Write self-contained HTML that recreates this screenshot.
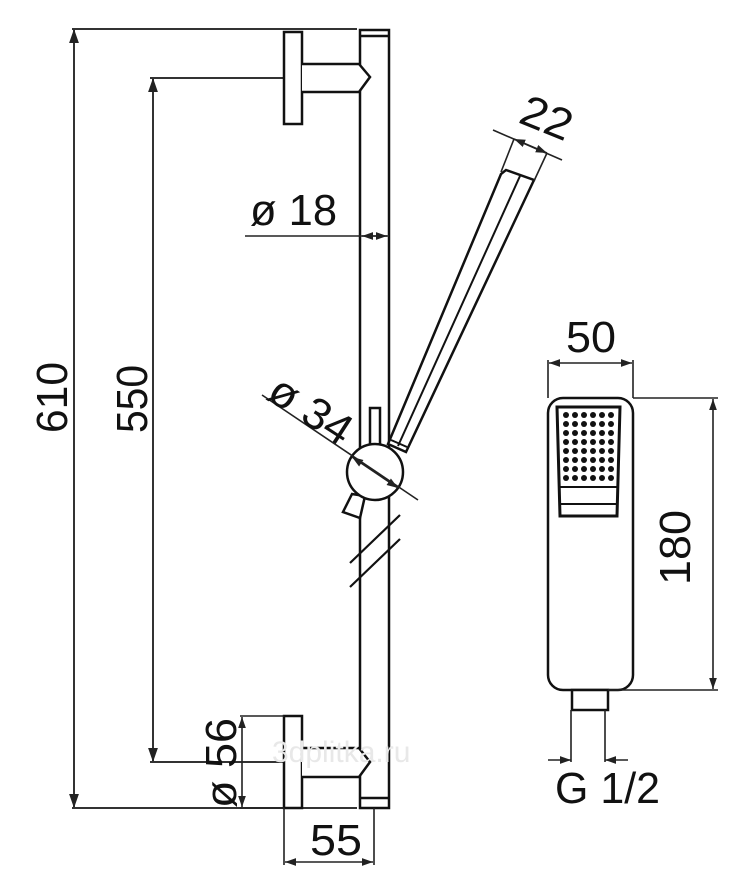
<!DOCTYPE html>
<html><head><style>html,body{margin:0;padding:0;background:#fff}svg{display:block}</style></head>
<body>
<svg width="733" height="896" viewBox="0 0 733 896" xmlns="http://www.w3.org/2000/svg" font-family="Liberation Sans, sans-serif">
<defs>
<marker id="a" viewBox="0 0 10 10" refX="10" refY="5" markerWidth="7" markerHeight="7" orient="auto-start-reverse"><path d="M0,1.5 L10,5 L0,8.5z" fill="#222"/></marker>
</defs>
<g stroke="#333" stroke-width="2" fill="none">
<!-- 610 dim -->
<line x1="72" y1="29" x2="357" y2="29"/>
<line x1="74" y1="29" x2="74" y2="808" marker-start="url(#a)" marker-end="url(#a)"/>
<line x1="72" y1="808" x2="357" y2="808"/>
<!-- 550 dim -->
<line x1="150" y1="78" x2="284" y2="78"/>
<line x1="153" y1="78" x2="153" y2="762" marker-start="url(#a)" marker-end="url(#a)"/>
<line x1="150" y1="762" x2="284" y2="762"/>
</g>
<g stroke="#111" stroke-width="2.5" fill="#fff">
<!-- rail -->
<rect x="360" y="30" width="29" height="778"/>
<line x1="360" y1="36" x2="389" y2="36"/>
<line x1="360" y1="798" x2="389" y2="798"/>
<!-- top mount -->
<rect x="284" y="32" width="18" height="92"/>
<path d="M302,64 H359 L370,77 L359,92 H302"/>
<!-- bottom mount -->
<rect x="284" y="716" width="18" height="92"/>
<path d="M302,748 H359 L370,762 L359,777 H302"/>
<!-- handle -->
<polygon points="388,444 501,174 506,170 534,180 406,452"/>
<line x1="398" y1="446" x2="520" y2="176" stroke-width="2"/>
<line x1="391" y1="440" x2="407" y2="447" stroke-width="2"/>
<!-- pin & lever -->
<rect x="370" y="408" width="10" height="38"/>
<polygon points="352,494 343,512 360,518 365,496"/>
<circle cx="375" cy="472" r="28"/>
<!-- slash lines -->
<line x1="350" y1="563" x2="400" y2="515" stroke-width="2.2"/>
<line x1="350" y1="587" x2="400" y2="539" stroke-width="2.2"/>
</g>
<g stroke="#222" stroke-width="1.6" fill="none">
<!-- ø18 -->
<line x1="245" y1="236" x2="389" y2="236"/>
<line x1="362" y1="236" x2="387" y2="236" marker-start="url(#a)" marker-end="url(#a)"/>
<!-- ø34 -->
<line x1="262" y1="395" x2="418" y2="500"/>
<line x1="352" y1="457" x2="398" y2="488" marker-start="url(#a)" marker-end="url(#a)"/>
<!-- 22 -->
<line x1="493" y1="130" x2="562" y2="160"/>
<line x1="514" y1="139" x2="547" y2="153" marker-start="url(#a)" marker-end="url(#a)"/>
<line x1="514" y1="139" x2="501" y2="172"/>
<line x1="547" y1="153" x2="534" y2="181"/>
<!-- 55 -->
<line x1="284" y1="808" x2="284" y2="865"/>
<line x1="374" y1="808" x2="374" y2="865"/>
<line x1="285" y1="862" x2="373" y2="862" marker-start="url(#a)" marker-end="url(#a)"/>
<!-- ø56 -->
<line x1="240" y1="716" x2="284" y2="716"/>
<line x1="240" y1="808" x2="284" y2="808"/>
<line x1="242" y1="717" x2="242" y2="807" marker-start="url(#a)" marker-end="url(#a)"/>
</g>
<!-- hand shower -->
<g stroke="#111" stroke-width="2.5" fill="#fff">
<rect x="548" y="398" width="85" height="292" rx="15"/>
<rect x="572" y="690" width="36" height="20"/>
</g>
<g stroke="#111" stroke-width="3" fill="none">
<path d="M557,407 H620 L617,516 H560 Z"/>
<line x1="559" y1="487" x2="618" y2="487" stroke-width="2"/>
<line x1="559" y1="504" x2="618" y2="504" stroke-width="2"/>
</g>
<g fill="#111">
<g id="row">
<circle cx="566" cy="415" r="3"/><circle cx="575" cy="415" r="3"/><circle cx="584" cy="415" r="3"/><circle cx="593" cy="415" r="3"/><circle cx="602" cy="415" r="3"/><circle cx="611" cy="415" r="3"/>
</g>
<use href="#row" y="9"/><use href="#row" y="18"/><use href="#row" y="27"/><use href="#row" y="36"/><use href="#row" y="45"/><use href="#row" y="54"/><use href="#row" y="63"/>
</g>
<g stroke="#222" stroke-width="1.6" fill="none">
<line x1="548" y1="360" x2="548" y2="398"/>
<line x1="633" y1="360" x2="633" y2="398"/>
<line x1="549" y1="363" x2="632" y2="363" marker-start="url(#a)" marker-end="url(#a)"/>
<line x1="633" y1="398" x2="718" y2="398"/>
<line x1="608" y1="690" x2="718" y2="690"/>
<line x1="713" y1="399" x2="713" y2="689" marker-start="url(#a)" marker-end="url(#a)"/>
<line x1="571" y1="710" x2="571" y2="762"/>
<line x1="605" y1="710" x2="605" y2="762"/>
<line x1="548" y1="760" x2="571" y2="760" marker-end="url(#a)"/>
<line x1="628" y1="760" x2="605" y2="760" marker-end="url(#a)"/>
</g>
<g fill="#111" font-size="44">
<text transform="translate(67,433) rotate(-90)" textLength="71" lengthAdjust="spacingAndGlyphs">610</text>
<text transform="translate(147,433) rotate(-90)" textLength="68" lengthAdjust="spacingAndGlyphs">550</text>
<text x="250" y="225" textLength="87" lengthAdjust="spacingAndGlyphs">ø 18</text>
<text transform="translate(265,398) rotate(33)" textLength="90" lengthAdjust="spacingAndGlyphs">ø 34</text>
<text transform="translate(517,122) rotate(22)" textLength="52" lengthAdjust="spacingAndGlyphs">22</text>
<text transform="translate(236,808) rotate(-90)" textLength="90" lengthAdjust="spacingAndGlyphs">ø 56</text>
<text x="310" y="855" textLength="52" lengthAdjust="spacingAndGlyphs">55</text>
<text x="566" y="352" textLength="50" lengthAdjust="spacingAndGlyphs">50</text>
<text transform="translate(690,585) rotate(-90)" textLength="75" lengthAdjust="spacingAndGlyphs">180</text>
<text x="555" y="803" textLength="105" lengthAdjust="spacingAndGlyphs">G 1/2</text>
</g>
<text x="272" y="762" font-size="30" fill="#e8e8e8">3dplitka.ru</text>
</svg>
</body></html>
